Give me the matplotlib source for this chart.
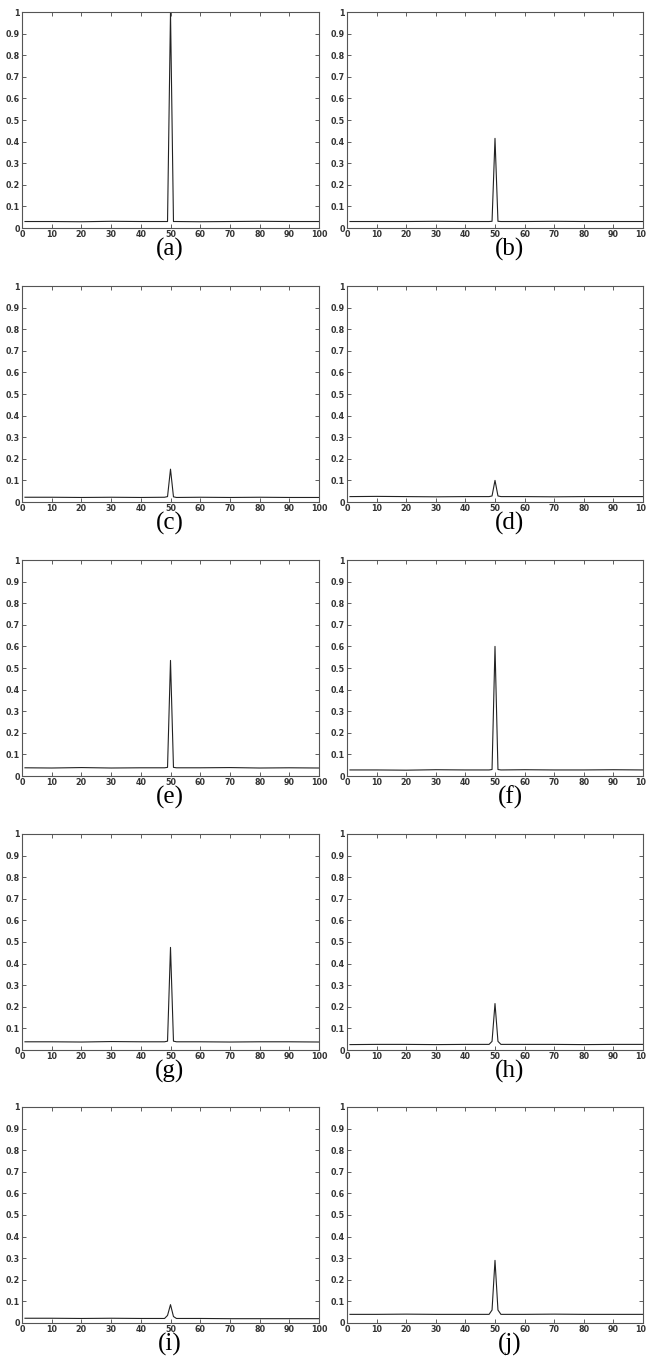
import matplotlib
matplotlib.use('Agg')
import matplotlib.pyplot as plt
from matplotlib.ticker import FixedLocator, FixedFormatter

# sample positions along the 1..100 axis (coarse, the curves are flat away from 50)
x_pts = [1, 10, 20, 30, 40, 48, 49, 50, 51, 52, 60, 70, 80, 90, 100]

# estimated values
series = {
    'a': [0.030, 0.030, 0.029, 0.031, 0.030, 0.030, 0.030, 1.000, 0.030, 0.030, 0.029, 0.030, 0.031, 0.030, 0.030],
    'b': [0.030, 0.030, 0.030, 0.031, 0.030, 0.030, 0.031, 0.415, 0.031, 0.030, 0.030, 0.031, 0.030, 0.030, 0.030],
    'c': [0.022, 0.022, 0.021, 0.022, 0.021, 0.022, 0.025, 0.152, 0.024, 0.021, 0.022, 0.021, 0.022, 0.021, 0.021],
    'd': [0.025, 0.026, 0.025, 0.024, 0.025, 0.025, 0.028, 0.100, 0.028, 0.025, 0.025, 0.024, 0.025, 0.025, 0.025],
    'e': [0.038, 0.037, 0.039, 0.037, 0.038, 0.038, 0.040, 0.535, 0.040, 0.038, 0.038, 0.039, 0.037, 0.038, 0.037],
    'f': [0.028, 0.028, 0.027, 0.029, 0.028, 0.028, 0.030, 0.600, 0.030, 0.028, 0.029, 0.028, 0.028, 0.029, 0.028],
    'g': [0.038, 0.038, 0.037, 0.039, 0.038, 0.038, 0.041, 0.475, 0.041, 0.038, 0.038, 0.037, 0.038, 0.038, 0.037],
    'h': [0.025, 0.026, 0.026, 0.025, 0.026, 0.026, 0.040, 0.215, 0.040, 0.026, 0.026, 0.026, 0.025, 0.026, 0.026],
    'i': [0.022, 0.022, 0.021, 0.022, 0.021, 0.021, 0.035, 0.085, 0.030, 0.021, 0.021, 0.020, 0.020, 0.020, 0.020],
    'j': [0.040, 0.040, 0.041, 0.040, 0.040, 0.040, 0.060, 0.290, 0.060, 0.040, 0.040, 0.041, 0.040, 0.040, 0.040],
}

xticks = list(range(0, 101, 10))
yticks = [0, 0.1, 0.2, 0.3, 0.4, 0.5, 0.6, 0.7, 0.8, 0.9, 1]
ytick_labels = ['0', '0.1', '0.2', '0.3', '0.4', '0.5', '0.6', '0.7', '0.8', '0.9', '1']

W, H = 646, 1363
fig = plt.figure(figsize=(W / 100, H / 100), dpi=100)

col_left = [22, 347]
col_width = [297, 296]
label_x = [170, 510]
row_top = [12, 286, 560, 834, 1107]
ax_h = 216

for i, (key, vals) in enumerate(series.items()):
    r, c = divmod(i, 2)
    left = col_left[c] / W
    bottom = 1 - (row_top[r] + ax_h) / H
    ax = fig.add_axes([left, bottom, col_width[c] / W, ax_h / H])
    ax.plot(x_pts, vals, color='#222222', lw=0.8)
    ax.set_xlim(0, 100)
    ax.set_ylim(0, 1)
    ax.xaxis.set_major_locator(FixedLocator(xticks))
    ax.yaxis.set_major_locator(FixedLocator(yticks))
    ax.yaxis.set_major_formatter(FixedFormatter(ytick_labels))
    ax.tick_params(direction='in', length=3, width=0.6, top=True, right=True,
                   labelsize=5.8, pad=1.5, colors='#444444', labelcolor='#333333')
    for lbl in ax.get_xticklabels() + ax.get_yticklabels():
        lbl.set_fontweight('bold')
    for s in ax.spines.values():
        s.set_color('#555555')
        s.set_linewidth(0.8)
    fig.text(label_x[c] / W, 1 - (row_top[r] + ax_h + 21) / H, f'({key})',
             ha='center', va='center', fontsize=18, family='Liberation Serif')

fig.savefig('out.png', dpi=100)
